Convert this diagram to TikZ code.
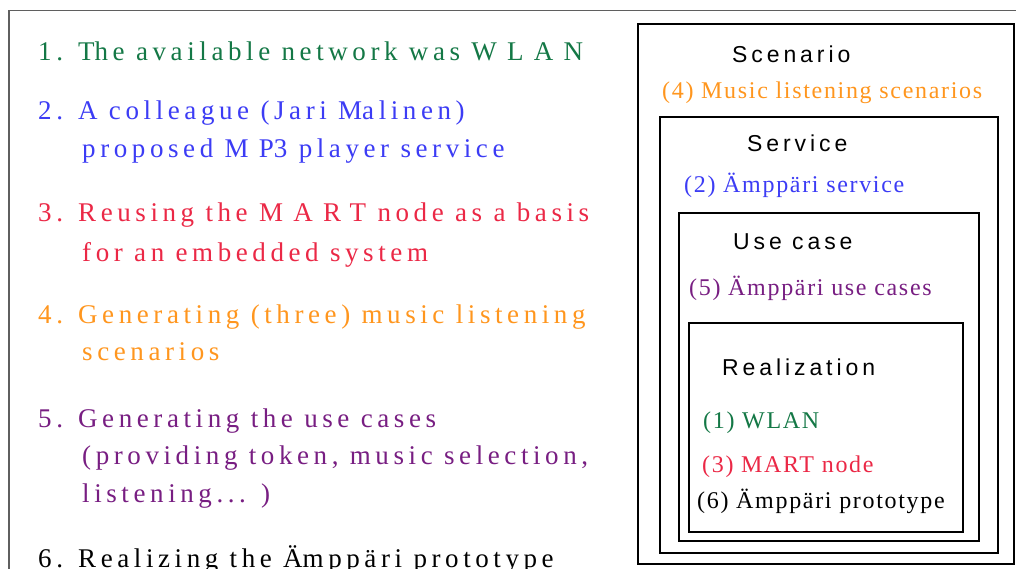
\documentclass[tikz,border=0pt]{standalone}
\usepackage{fontspec}
\setmainfont{Liberation Serif}
\setsansfont{Liberation Sans}
\newfontfamily\stepfont[LetterSpace=17]{Liberation Serif}
\newfontfamily\labelfont[LetterSpace=7]{Liberation Serif}
\newfontfamily\layerfont[LetterSpace=17]{Liberation Sans}
\usetikzlibrary{positioning}

% capitals are spread wider in the step list
\newcommand\widecaps[1]{{\addfontfeature{LetterSpace=38}#1}}

\definecolor{cgreen}{RGB}{20,120,70}
\definecolor{cblue}{RGB}{60,60,245}
\definecolor{cred}{RGB}{235,40,70}
\definecolor{corange}{RGB}{255,150,30}
\definecolor{cpurple}{RGB}{120,30,130}
\definecolor{cframe}{RGB}{95,95,95}

\tikzset{
    stepnode/.style = {anchor=base west, inner sep=0pt, font={\stepfont\fontsize{27}{32}\selectfont}},
    labelnode/.style = {anchor=base west, inner sep=0pt, font={\labelfont\fontsize{24}{28}\selectfont}},
    layernode/.style = {anchor=base west, inner sep=0pt, font={\layerfont\fontsize{23}{28}\selectfont}, text=black},
    layerbox/.style = {line width=1.6pt, draw=black},
    frameline/.style = {line width=1.8pt, draw=cframe}
}

\begin{document}
\begin{tikzpicture}[x=1pt,y=-1pt]
\useasboundingbox (0,0) rectangle (1016,569);
\fill[white] (0,0) rectangle (1016,569);
\draw[frameline] (9,10.5) rectangle (1040,600);
%
% the steps
\node[stepnode,text=cgreen] at (38,61) (s1) {1. \widecaps{T}he available network was \widecaps{WLAN}};
\node[stepnode,text=cblue] at (38,120) (s2a) {2. A colleague (Jari \widecaps{M}alinen)};
\node[stepnode,text=cblue] at (82,158) (s2b) {proposed \widecaps{MP}3 player service};
\node[stepnode,text=cred] at (38,222) (s3a) {3. Reusing the \widecaps{MART} node as a basis};
\node[stepnode,text=cred] at (82,261) (s3b) {for an embedded system};
\node[stepnode,text=corange] at (38,323) (s4a) {4. Generating (three) music listening};
\node[stepnode,text=corange] at (82,360) (s4b) {scenarios};
\node[stepnode,text=cpurple] at (38,427) (s5a) {5. Generating the use cases};
\node[stepnode,text=cpurple] at (82,464) (s5b) {(providing token, music selection,};
\node[stepnode,text=cpurple] at (82,502) (s5c) {listening... )};
\node[stepnode,text=black] at (38,567) (s6) {6. Realizing the \widecaps{Ä}mppäri prototype};
%
% the nested layers
\draw[layerbox] (638,24) rectangle (1014,564);
\draw[layerbox] (660,117) rectangle (998,553);
\draw[layerbox] (679,213) rectangle (979,541);
\draw[layerbox] (689,323) rectangle (963,532);
%
\node[layernode] at (732,63) (scen) {Scenario};
\node[labelnode,text=corange] at (662,99) (l4) {(4) Music listening scenarios};
\node[layernode] at (747,152) (serv) {Service};
\node[labelnode,text=cblue] at (684,193) (l2) {(2) Ämppäri service};
\node[layernode] at (733,249) (usec) {Use case};
\node[labelnode,text=cpurple] at (689,295) (l5) {(5) Ämppäri use cases};
\node[layernode] at (722,375) (real) {Realization};
\node[labelnode,text=cgreen] at (703,428) (l1) {(1) WLAN};
\node[labelnode,text=cred] at (702,472) (l3) {(3) MART node};
\node[labelnode,text=black] at (697,508) (l6) {(6) Ämppäri prototype};

\end{tikzpicture}
\end{document}
